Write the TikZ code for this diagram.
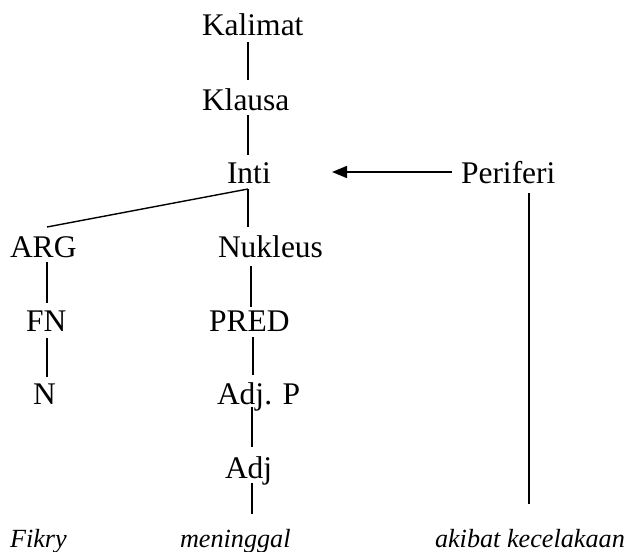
\documentclass[tikz,border=0pt]{standalone}
\usepackage{fontspec}
\setmainfont{Liberation Serif}
\usetikzlibrary{arrows.meta}
\begin{document}
\begin{tikzpicture}[x=1pt,y=-1pt,
  lbl/.style={anchor=base west,inner sep=0pt,outer sep=0pt,font=\fontsize{31.5}{38}\selectfont},
  word/.style={anchor=base west,inner sep=0pt,outer sep=0pt,font=\fontsize{26.2}{32}\selectfont\itshape},
  conn/.style={line width=1.4pt},
  arr/.style={line width=1.4pt,-{Triangle[length=15pt,width=12pt]}}]
\useasboundingbox (0,0) rectangle (628,551);
% labels
\node[lbl] (kal) at (202,36) {Kalimat};
\node[lbl] (kla) at (202,110) {Klausa};
\node[lbl] (inti) at (227,183) {Inti};
\node[lbl] (per) at (461,183) {Periferi};
\node[lbl] (arg) at (10,257) {ARG};
\node[lbl] (nuk) at (218,257) {Nukleus};
\node[lbl] (fn) at (26,331) {FN};
\node[lbl] (pred) at (209,331) {PRED};
\node[lbl] (n) at (33,404) {N};
\node[lbl] (adjp) at (217,404) {Adj. P};
\node[lbl] (adj) at (225,478) {Adj};
\node[word] (fik) at (10,547) {Fikry};
\node[word] (men) at (180,547) {meninggal};
\node[word] (aki) at (435,547) {akibat kecelakaan};
% connector end points
\coordinate (kalB) at (248,42);  \coordinate (klaT) at (248,80);
\coordinate (klaB) at (248,115); \coordinate (intiT) at (248,155);
\coordinate (intiB) at (248,189);
\coordinate (argT) at (47,227);  \coordinate (nukT) at (248,227);
\coordinate (argB) at (47,262);  \coordinate (fnT) at (47,303);
\coordinate (fnB) at (47,338);   \coordinate (nT) at (47,377);
\coordinate (nukB) at (251,266); \coordinate (predT) at (251,307);
\coordinate (predB) at (253,337); \coordinate (adjpT) at (253,375);
\coordinate (adjpB) at (252,407); \coordinate (adjT) at (252,447);
\coordinate (adjB) at (252,483); \coordinate (menT) at (252,514);
\coordinate (perB) at (529,193); \coordinate (akiT) at (529,504);
\coordinate (perL) at (452,172); \coordinate (intiR) at (332,172);
% connectors
\draw[conn] (kalB) -- (klaT);
\draw[conn] (klaB) -- (intiT);
\draw[conn] (intiB) -- (argT);
\draw[conn] (intiB) -- (nukT);
\draw[conn] (argB) -- (fnT);
\draw[conn] (fnB) -- (nT);
\draw[conn] (nukB) -- (predT);
\draw[conn] (predB) -- (adjpT);
\draw[conn] (adjpB) -- (adjT);
\draw[conn] (adjB) -- (menT);
\draw[conn] (perB) -- (akiT);
\draw[arr] (perL) -- (intiR);
\end{tikzpicture}
\end{document}
